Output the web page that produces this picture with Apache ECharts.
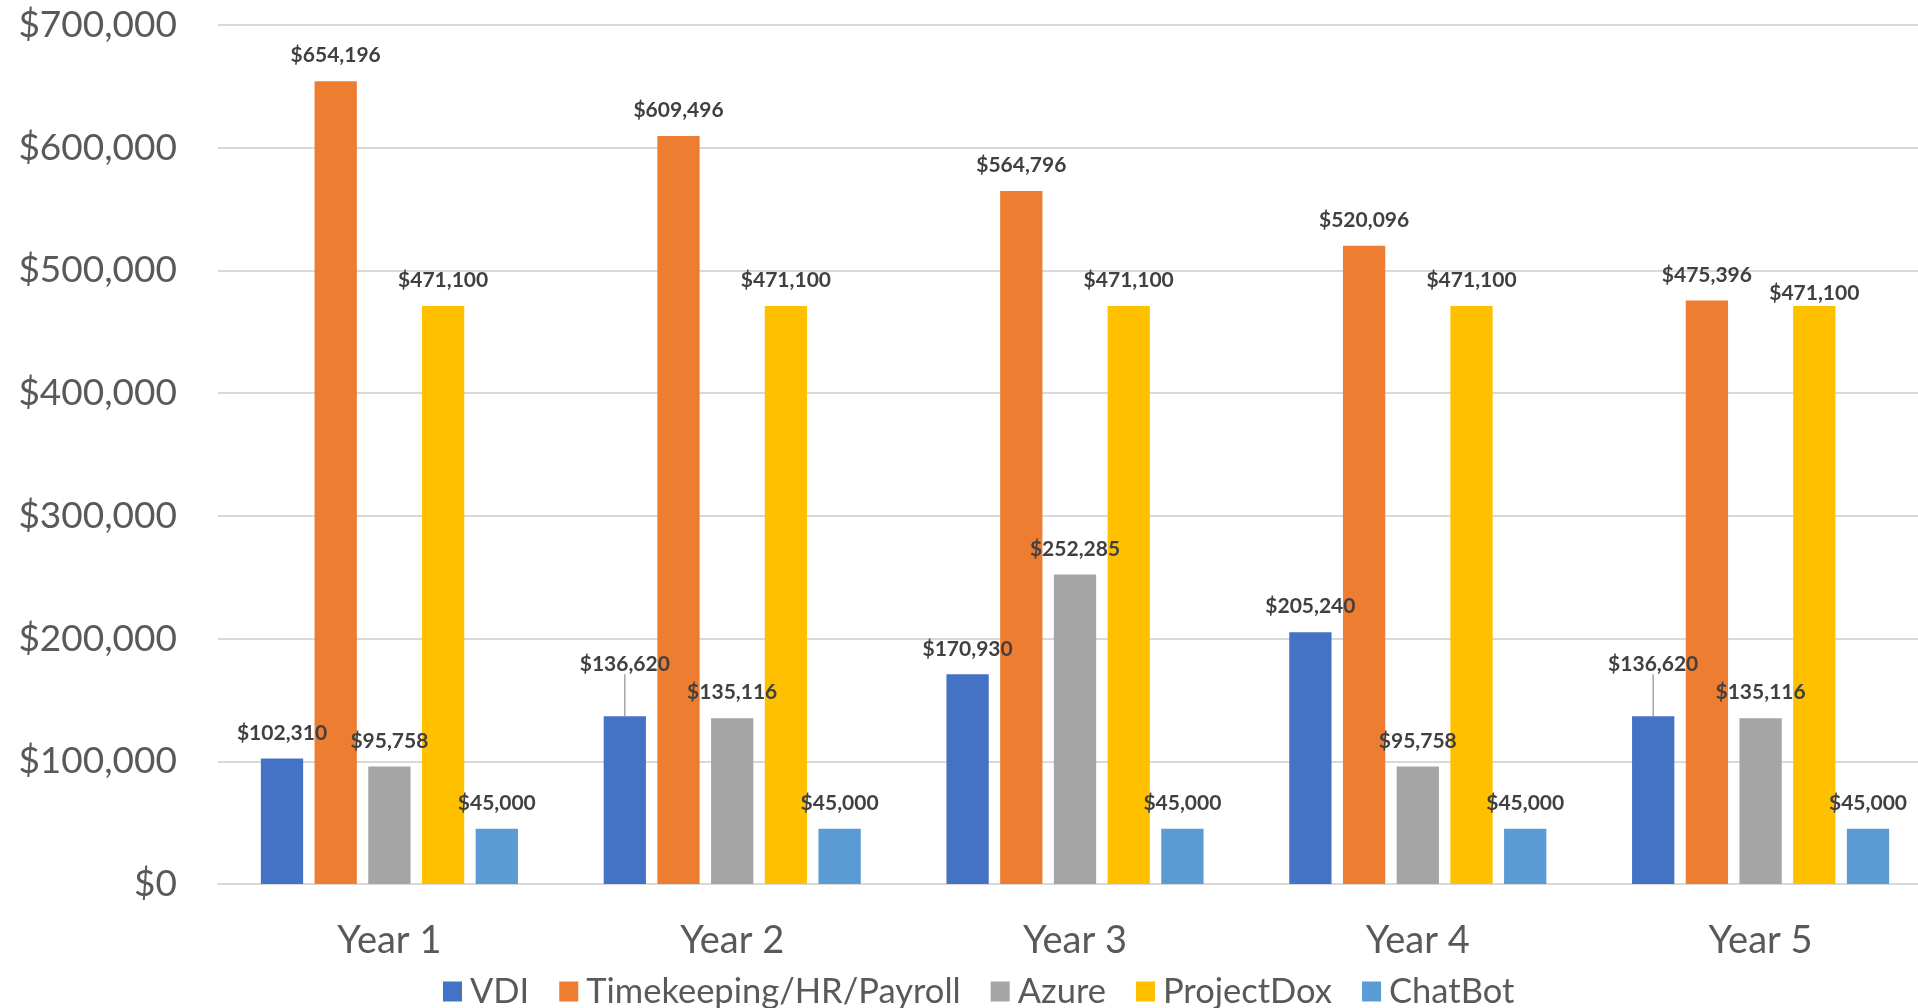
<!DOCTYPE html>
<html><head><meta charset="utf-8">
<script src="https://cdn.jsdelivr.net/npm/echarts@6/dist/echarts.min.js"></script>
<style>html,body{margin:0;padding:0;background:#fff}#c{width:1918px;height:1008px}</style>
</head><body><div id="c"></div>
<script>
const categories = ['Year 1','Year 2','Year 3','Year 4','Year 5'];
const seriesNames = ['VDI','Timekeeping/HR/Payroll','Azure','ProjectDox','ChatBot'];
const vdi = [102310,136620,170930,205240,136620];
const timekeeping = [654196,609496,564796,520096,475396];
const azure = [95758,135116,252285,95758,135116];
const projectDox = [471100,471100,471100,471100,471100];
const chatBot = [45000,45000,45000,45000,45000];
const yTicks = [0,100000,200000,300000,400000,500000,600000,700000];
const colors = ['#4472C4','#ED7D31','#A5A5A5','#FFC000','#5B9BD5'];

const FONT = 'Lato';
const fmt = v => '$' + Math.round(v).toLocaleString('en-US');
const values = [vdi,timekeeping,azure,projectDox,chatBot];
// labels lifted with a leader line (series index, data index)
const lifted = {'0-1':-27,'0-4':-27};

const chart = echarts.init(document.getElementById('c'));
chart.setOption({
  animation:false,
  textStyle:{fontFamily:FONT},
  grid:{left:218,width:1714,top:25,bottom:124,containLabel:false,outerBoundsMode:'none'},
  legend:{
    top:969, left:438, itemWidth:19, itemHeight:20, itemGap:30,
    icon:'rect',
    textStyle:{fontFamily:FONT,fontSize:34.5,color:'#595959',padding:[0,0,0,3]},
    data:seriesNames
  },
  xAxis:{
    type:'category', data:categories,
    axisLine:{lineStyle:{color:'#d9d9d9',width:2}},
    axisTick:{show:false},
    axisLabel:{fontFamily:FONT,fontSize:38,color:'#595959',margin:38}
  },
  yAxis:{
    type:'value', min:yTicks[0], max:yTicks[yTicks.length-1], interval:100000,
    axisLine:{show:false}, axisTick:{show:false},
    splitLine:{lineStyle:{color:'#d9d9d9',width:2}},
    axisLabel:{fontFamily:FONT,fontSize:37,color:'#595959',margin:41,formatter:fmt}
  },
  series: seriesNames.map((name,i)=>({
    name, type:'bar',
    data: values[i].map((v,j)=> lifted[i+'-'+j] ? {value:v,labelLine:{show:true}} : v),
    barGap:'27%', barCategoryGap:'25%',
    itemStyle:{color:colors[i]},
    label:{show:true,position:'top',distance:15,fontFamily:FONT,fontWeight:'bold',fontSize:21,color:'#404040',
      formatter:p=>fmt(p.value)},
    labelLine:{show:false,lineStyle:{color:'#a6a6a6',width:1.5}},
    labelLayout: function(p){
      if(lifted[i+'-'+p.dataIndex]) return {dy:lifted[i+'-'+p.dataIndex]};
      if(i===3 && p.dataIndex===4) return {dy:13};
      return {};
    }
  }))
});
</script></body></html>
